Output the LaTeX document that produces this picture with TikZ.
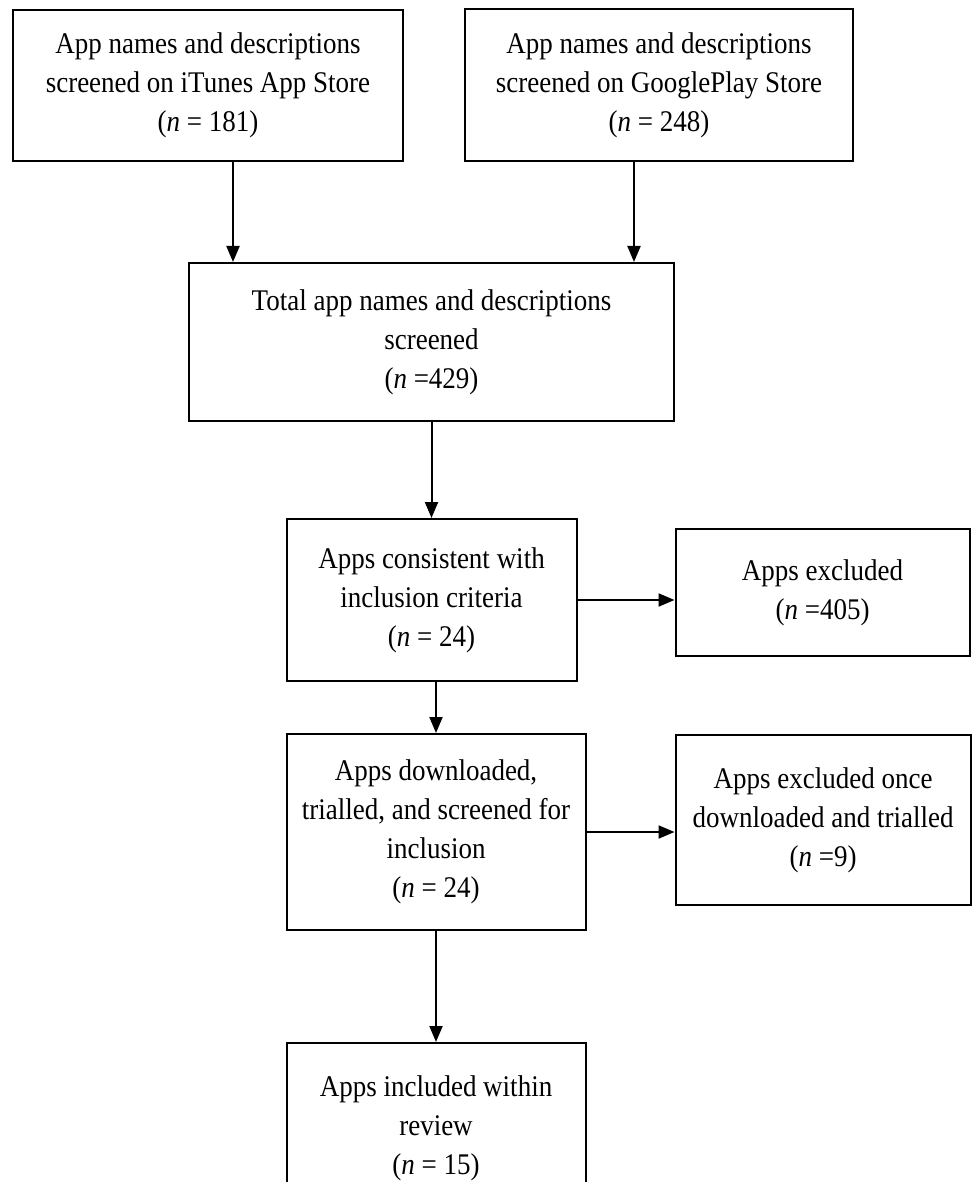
\documentclass[tikz,border=0pt]{standalone}
\usepackage{fontspec}
\setmainfont{Liberation Serif}[FakeStretch=0.9]
\usetikzlibrary{arrows.meta,positioning}

\begin{document}
\begin{tikzpicture}[x=0.5pt,y=0.5pt,>={Triangle[length=8pt,width=6.5pt]},
  font=\fontsize{15}{19.5}\selectfont,
  blk/.style={draw,line width=1pt,align=center,inner sep=2pt},
  flow/.style={->,line width=1pt}]
\clip (0,0) rectangle (973,-1182);
\node[blk,minimum width=195pt,minimum height=75.5pt] (ios) at (208,-85.5) {App names and descriptions\\screened on iTunes App Store\\(\textit{n} = 181)};
\node[blk,minimum width=194pt,minimum height=76pt,right=30pt of ios] (gplay) {App names and descriptions\\screened on GooglePlay Store\\(\textit{n} = 248)};
\node[blk,minimum width=242.5pt,minimum height=79pt] (total) at (431.5,-342) {Total app names and descriptions\\screened\\(\textit{n} =429)};
\node[blk,minimum width=145pt,minimum height=81pt,below=48pt of total] (crit) {Apps consistent with\\inclusion criteria\\(\textit{n} = 24)};
\node[blk,minimum width=147pt,minimum height=63.5pt,right=48.5pt of crit,yshift=3.75pt] (excl) {Apps excluded\\(\textit{n} =405)};
\node[blk,minimum width=149.5pt,minimum height=98pt,below=25.5pt of crit,xshift=2.25pt] (trial) {Apps downloaded,\\trialled, and screened for\\inclusion\\(\textit{n} = 24)};
\node[blk,minimum width=147.5pt,minimum height=85pt,right=44pt of trial,yshift=6pt] (exclb) {Apps excluded once\\downloaded and trialled\\(\textit{n} =9)};
\node[blk,minimum width=149.5pt,minimum height=85pt,below=55.5pt of trial] (incl) {Apps included within\\review\\(\textit{n} = 15)};
\draw[flow] ([xshift=12.5pt]ios.south) -- ([xshift=12.5pt]ios.south |- total.north);
\draw[flow] ([xshift=-12.5pt]gplay.south) -- ([xshift=-12.5pt]gplay.south |- total.north);
\draw[flow] (total.south) -- (total.south |- crit.north);
\draw[flow] (crit.east) -- (crit.east -| excl.west);
\draw[flow] (trial.north |- crit.south) -- (trial.north);
\draw[flow] (trial.east) -- (trial.east -| exclb.west);
\draw[flow] (trial.south) -- (incl.north);
\end{tikzpicture}
\end{document}
